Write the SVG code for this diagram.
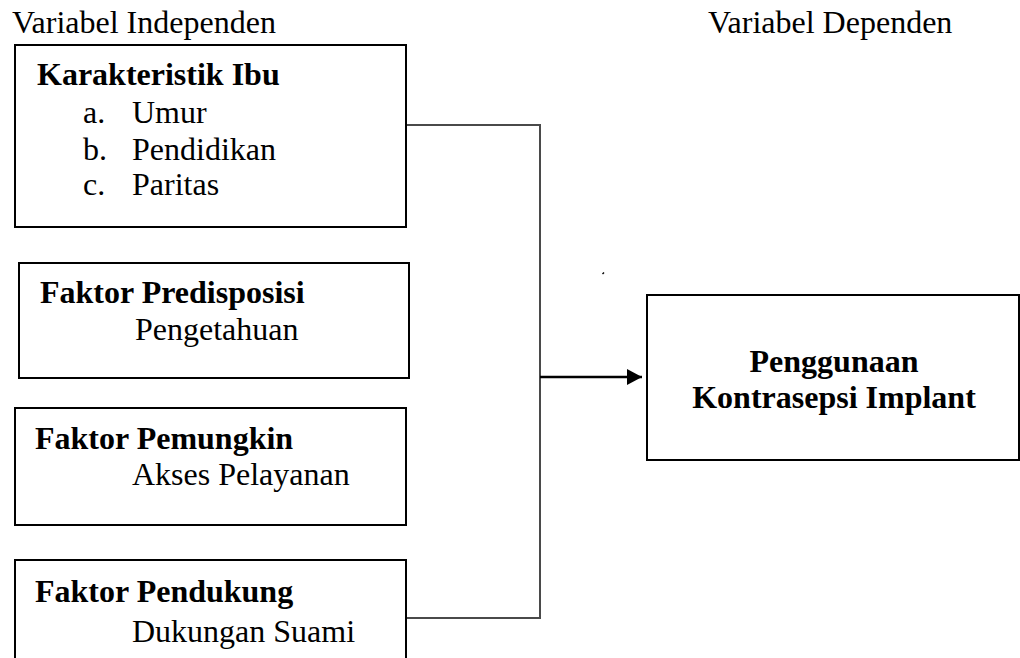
<svg xmlns="http://www.w3.org/2000/svg" width="1020" height="658" viewBox="0 0 1020 658">
<style>
text{font-family:"Liberation Serif","Times New Roman",serif;font-size:32px;fill:#000}
.b{font-weight:bold}
.box{fill:#fff;stroke:#000;stroke-width:2}
.conn{fill:none;stroke:#4a4a4a;stroke-width:2}
.arr{fill:none;stroke:#000;stroke-width:2.5}
</style>
<defs>
<marker id="ah" markerWidth="16" markerHeight="16" refX="15" refY="8" orient="auto" markerUnits="userSpaceOnUse">
<path d="M0,0 L15,8 L0,16 Z" fill="#000"/>
</marker>
</defs>
<rect width="1020" height="658" fill="#fff"/>
<text x="12" y="33">Variabel Independen</text>
<text x="708" y="33">Variabel Dependen</text>
<g id="connectors">
<polyline class="conn" points="406,125 540,125 540,618 406,618"/>
<line class="arr" x1="540" y1="377" x2="642" y2="377" marker-end="url(#ah)"/>
<line x1="602.5" y1="274" x2="604" y2="272.5" stroke="#000" stroke-width="1.5"/>
</g>
<g id="karakteristik">
<rect class="box" x="15" y="45" width="391" height="182"/>
<text class="b" x="37" y="85">Karakteristik Ibu</text>
<text x="83" y="123">a.</text><text x="132" y="123">Umur</text>
<text x="83" y="160">b.</text><text x="132" y="160">Pendidikan</text>
<text x="83" y="195">c.</text><text x="132" y="195">Paritas</text>
</g>
<g id="predisposisi">
<rect class="box" x="19" y="263" width="390" height="115"/>
<text class="b" x="40" y="303">Faktor Predisposisi</text>
<text x="135" y="340">Pengetahuan</text>
</g>
<g id="pemungkin">
<rect class="box" x="15" y="408" width="391" height="117"/>
<text class="b" x="35" y="449">Faktor Pemungkin</text>
<text x="132" y="485">Akses Pelayanan</text>
</g>
<g id="pendukung">
<rect class="box" x="15" y="560" width="391" height="120"/>
<text class="b" x="35" y="602">Faktor Pendukung</text>
<text x="132" y="642">Dukungan Suami</text>
</g>
<g id="penggunaan">
<rect class="box" x="647" y="295" width="372" height="165"/>
<text class="b" x="834" y="372" text-anchor="middle">Penggunaan</text>
<text class="b" x="834" y="408" text-anchor="middle">Kontrasepsi Implant</text>
</g>
</svg>
